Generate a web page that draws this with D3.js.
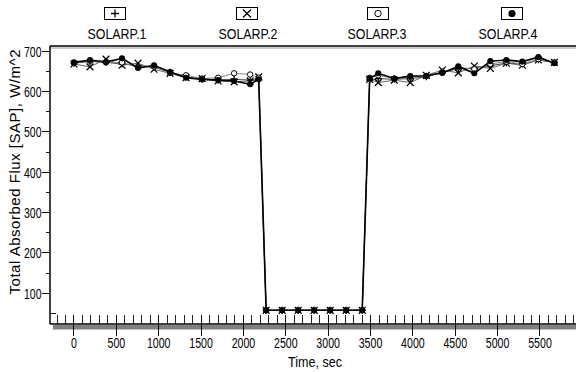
<!DOCTYPE html>
<html><head><meta charset="utf-8">
<script src="https://cdn.jsdelivr.net/npm/d3@7"></script>
<style>
html,body{margin:0;padding:0;background:#fff;}
svg{display:block;}
text{font-family:"Liberation Sans Narrow","Liberation Sans",Arial,sans-serif;fill:#000;}
</style></head><body>
<svg id="c" width="576" height="372"></svg>
<script>
const times = [0,189,378,567,756,945,1134,1323,1512,1701,1890,2079,2180,2268,2457,2646,2835,3024,3213,3402,3490,3591,3780,3969,4158,4347,4536,4725,4914,5103,5292,5481,5670];
const solarp1 = [670,674,672,668,664,660,648,636,630,628,630,628,628,58,58,58,58,58,58,58,628,632,630,632,636,648,656,658,664,670,668,678,672];
const solarp2 = [668,661,680,665,670,655,645,634,632,626,624,626,636,58,58,58,58,58,58,58,630,622,628,622,640,653,646,663,657,670,665,678,672];
const solarp3 = [670,676,672,672,660,662,646,640,632,634,645,642,634,58,58,58,58,58,58,58,634,640,632,636,638,648,660,655,668,674,668,680,672];
const solarp4 = [672,678,673,682,658,665,648,634,630,628,626,618,630,58,58,58,58,58,58,58,632,645,632,638,639,646,662,645,675,678,674,685,670];
const seriesNames = ["SOLARP.1","SOLARP.2","SOLARP.3","SOLARP.4"];
const seriesValues = [solarp1, solarp2, solarp3, solarp4];
const markerTypes = ["plus","cross","open","filled"];
const lineColors = ["#444","#666","#888","#000"];
const lineWidths = [1,1,1,1.6];
const xTickLabels = [0,500,1000,1500,2000,2500,3000,3500,4000,4500,5000,5500];
const yTickLabels = [100,200,300,400,500,600,700];

const svg = d3.select("#c");
const x = d3.scaleLinear().domain([-283, 5925]).range([50, 576]);
const y = d3.scaleLinear().domain([24, 712.6]).range([324, 46]);

svg.append("line").attr("x1",50).attr("x2",576).attr("y1",46).attr("y2",46).attr("stroke","#000").attr("stroke-width",1.5);
svg.append("line").attr("x1",50).attr("x2",576).attr("y1",48).attr("y2",48).attr("stroke","#999").attr("stroke-width",1);

svg.append("rect").attr("x",53).attr("y",325).attr("width",523).attr("height",4.5).attr("fill","#808080");

const minor = d3.range(-200, 5926, 100);
svg.append("g").selectAll("line").data(minor).join("line")
  .attr("x1",d=>x(d)).attr("x2",d=>x(d)).attr("y1",315).attr("y2",324)
  .attr("stroke","#222").attr("stroke-width",1).attr("shape-rendering","crispEdges");
svg.append("g").selectAll("line").data(xTickLabels).join("line")
  .attr("x1",d=>x(d)).attr("x2",d=>x(d)).attr("y1",315).attr("y2",336)
  .attr("stroke","#111").attr("stroke-width",1).attr("shape-rendering","crispEdges");
svg.append("line").attr("x1",50).attr("x2",576).attr("y1",324).attr("y2",324).attr("stroke","#000").attr("stroke-width",1.5);

svg.append("g").selectAll("text").data(xTickLabels).join("text")
  .attr("x",d=>x(d)).attr("y",347.5).attr("text-anchor","middle").attr("font-size",15)
  .attr("textLength",d=>String(d).length*5.9).attr("lengthAdjust","spacingAndGlyphs")
  .text(d=>d);
svg.append("text").attr("x",315).attr("y",366.5).attr("text-anchor","middle").attr("font-size",15)
  .attr("textLength",54).attr("lengthAdjust","spacingAndGlyphs").text("Time, sec");

svg.append("line").attr("x1",50).attr("x2",50).attr("y1",46).attr("y2",324).attr("stroke","#000").attr("stroke-width",1.5);
const yMinor = d3.range(150, 701, 100);
svg.append("g").selectAll("line").data(yMinor).join("line")
  .attr("x1",45.5).attr("x2",50).attr("y1",d=>y(d)).attr("y2",d=>y(d))
  .attr("stroke","#111").attr("stroke-width",1).attr("shape-rendering","crispEdges");
svg.append("line").attr("x1",50).attr("x2",56).attr("y1",y(50)).attr("y2",y(50))
  .attr("stroke","#111").attr("stroke-width",1).attr("shape-rendering","crispEdges");
svg.append("g").selectAll("line").data(yTickLabels).join("line")
  .attr("x1",42).attr("x2",50).attr("y1",d=>y(d)).attr("y2",d=>y(d))
  .attr("stroke","#111").attr("stroke-width",1).attr("shape-rendering","crispEdges");
svg.append("g").selectAll("text").data(yTickLabels).join("text")
  .attr("x",41.5).attr("y",d=>y(d)+5.5).attr("text-anchor","end").attr("font-size",15)
  .attr("textLength",17.5).attr("lengthAdjust","spacingAndGlyphs")
  .text(d=>d);
svg.append("text").attr("transform","translate(20,172) rotate(-90)")
  .attr("text-anchor","middle").attr("font-size",15)
  .attr("textLength",245).attr("lengthAdjust","spacing")
  .text("Total Absorbed Flux  [SAP], W/m^2");

const line = d3.line().x((d,i)=>x(times[i])).y(d=>y(d));
seriesValues.forEach((vals,k)=>{
  svg.append("path").datum(vals).attr("d",line).attr("fill","none")
    .attr("stroke",lineColors[k]).attr("stroke-width",lineWidths[k]);
});

function drawMarker(g, type, cx, cy, s){
  if(type==="plus"){
    g.append("path").attr("d",`M${cx-s},${cy}H${cx+s}M${cx},${cy-s}V${cy+s}`).attr("stroke","#000").attr("stroke-width",1.3).attr("fill","none");
  } else if(type==="cross"){
    g.append("path").attr("d",`M${cx-s},${cy-s}L${cx+s},${cy+s}M${cx-s},${cy+s}L${cx+s},${cy-s}`).attr("stroke","#000").attr("stroke-width",1.3).attr("fill","none");
  } else if(type==="open"){
    g.append("circle").attr("cx",cx).attr("cy",cy).attr("r",s*0.8).attr("fill","#fff").attr("stroke","#000").attr("stroke-width",1);
  } else {
    g.append("circle").attr("cx",cx).attr("cy",cy).attr("r",s*0.9).attr("fill","#000");
  }
}
seriesValues.forEach((vals,k)=>{
  const g = svg.append("g");
  vals.forEach((v,i)=>drawMarker(g, markerTypes[k], x(times[i]), y(v), 3.4));
});

const legX = [115,247,378,512];
const legLabX = [117,248,377,508];
seriesNames.forEach((n,k)=>{
  const g = svg.append("g");
  g.append("rect").attr("x",legX[k]-10.5).attr("y",7.5).attr("width",21).attr("height",12)
    .attr("fill","#fff").attr("stroke","#000").attr("stroke-width",1);
  drawMarker(g, markerTypes[k], legX[k], 13.5, 4);
  g.append("text").attr("x",legLabX[k]).attr("y",38.5).attr("text-anchor","middle").attr("font-size",15)
    .attr("textLength",59).attr("lengthAdjust","spacingAndGlyphs").text(n);
});
</script></body></html>
